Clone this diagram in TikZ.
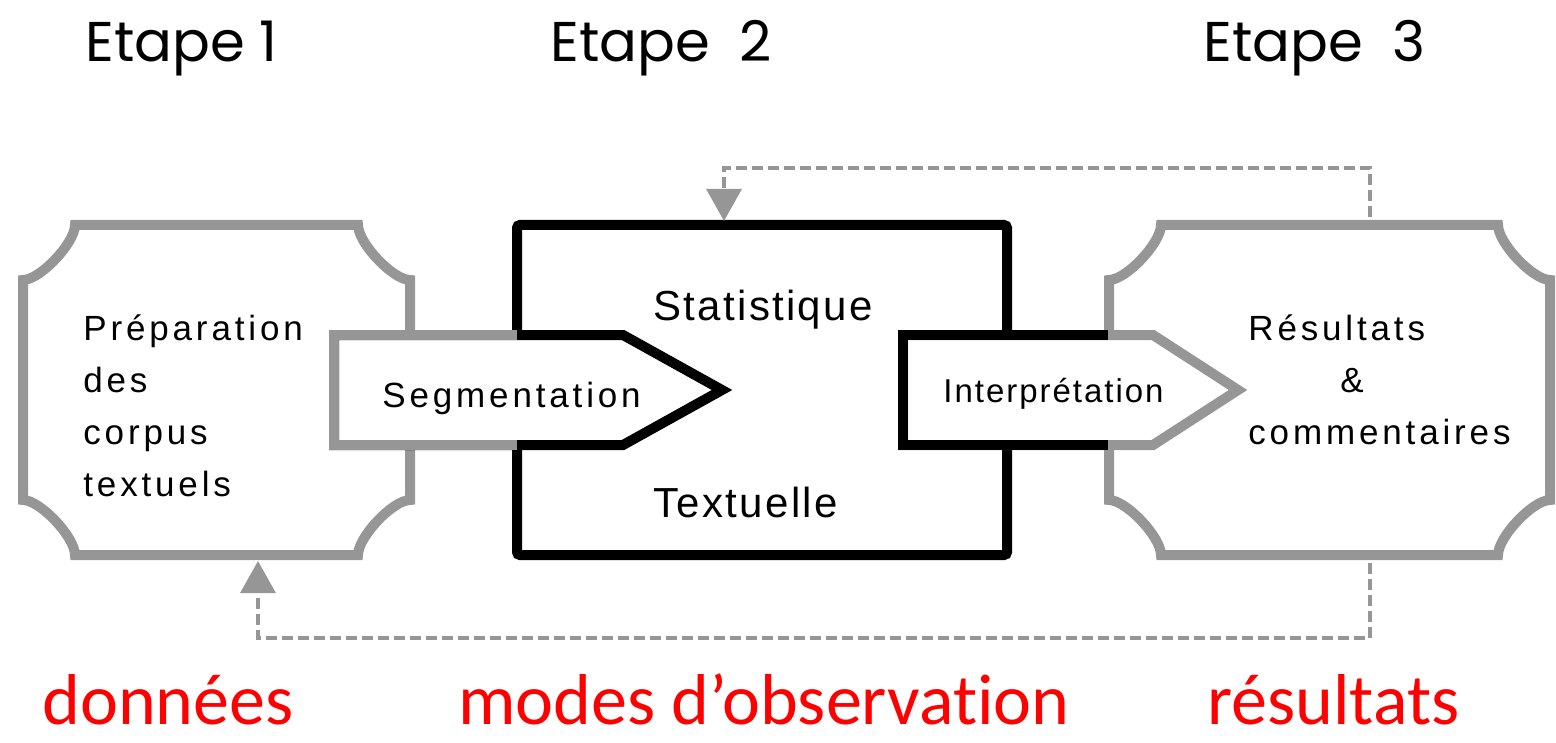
\documentclass[tikz,border=0pt]{standalone}
\usepackage{fontspec}
\setmainfont{Liberation Sans}
\newfontfamily\etapefont{Poppins}
\newfontfamily\modefont[Ligatures=NoCommon]{Carlito}
\usetikzlibrary{arrows.meta}
\definecolor{gris}{RGB}{150,150,150}

\begin{document}
\begin{tikzpicture}[x=0.5pt, y=-0.5pt,
    plaque/.style={draw=gris, line width=5pt, fill=white},
    bloc/.style={draw=black, line width=5pt, fill=white, rounded corners=1.5pt},
    retour/.style={draw=gris, line width=1.6pt, dash pattern=on 5.5pt off 2.5pt, -{Triangle[length=16pt, width=17.5pt]}},
    etape/.style={anchor=base west, inner sep=0pt, font=\etapefont\fontsize{28}{34}\selectfont},
    mode/.style={anchor=base west, inner sep=0pt, text=red, font=\modefont\fontsize{36}{44}\selectfont},
    texte/.style={anchor=base west, inner sep=0pt, align=left, font=\fontsize{17.5}{26}\selectfont\addfontfeature{LetterSpace=11}},
    grand/.style={texte, font=\fontsize{21}{26}\selectfont\addfontfeature{LetterSpace=5.5}}]
  \useasboundingbox (0,0) rectangle (1556,743);

  % Etapes
  \node[etape] (etape1) at (85,62) {Etape 1};
  \node[etape] (etape2) at (550,62) {Etape~~2};
  \node[etape] (etape3) at (1203,62) {Etape~~3};

  % Plaques
  \foreach \xa/\xb in {23/410, 1109/1550} {
    \draw[plaque] (\xa+52,225) -- (\xb-52,225)
      .. controls (\xb-52,243) and (\xb-17,280) .. (\xb,280) -- (\xb,500)
      .. controls (\xb-17,500) and (\xb-52,537) .. (\xb-52,555) -- (\xa+52,555)
      .. controls (\xa+52,537) and (\xa+17,500) .. (\xa,500) -- (\xa,280)
      .. controls (\xa+17,280) and (\xa+52,243) .. (\xa+52,225) -- cycle;
  }

  % Bloc central
  \draw[bloc] (517,225) rectangle (1007,555);

  % Fleches
  \draw[bloc, rounded corners=0pt] (334,335) -- (623,335) -- (722,390) -- (623,445) -- (334,445) -- cycle;
  \draw[gris, line width=5pt] (517,335) -- (334,335) -- (334,445) -- (517,445);
  \draw[plaque] (903,335) -- (1153,335) -- (1238,390) -- (1153,445) -- (903,445) -- cycle;
  \draw[line width=5pt] (1108,335) -- (903,335) -- (903,445) -- (1108,445);

  % Textes
  \node[texte] (prep) at (83,496) {Préparation\\des\\corpus\\textuels};
  \node[texte] (seg) at (382,407) {Segmentation};
  \node[grand] (stat) at (653,320) {Statistique};
  \node[grand] (textu) at (653,517) {Textuelle};
  \node[texte, font=\fontsize{16.5}{20}\selectfont\addfontfeature{LetterSpace=6}] (interp) at (943,402) {Interprétation};
  \node[texte] (res) at (1248,444) {Résultats\\\hspace*{46pt}\&\\commentaires};

  % Legendes
  \node[mode] (donnees) at (42,724) {données};
  \node[mode] (modes) at (458,724) {modes d’observation};
  \node[mode] (resultats) at (1207,724) {résultats};

  % Retours
  \coordinate (resbas) at (1370,563);
  \coordinate (prepbas) at (258,561);
  \coordinate (reshaut) at (1370,217);
  \coordinate (blochaut) at (724,221);
  \draw[retour] (resbas) -- ++(0,75) -| (prepbas);
  \draw[retour] (reshaut) -- ++(0,-49) -| (blochaut);
\end{tikzpicture}
\end{document}
